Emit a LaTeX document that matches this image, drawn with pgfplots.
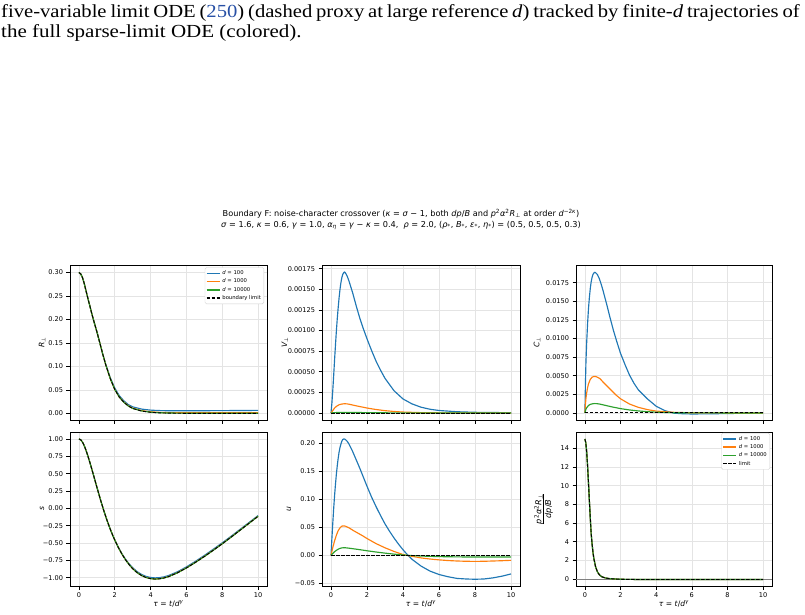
\documentclass[border=0pt]{standalone}
\usepackage{pgfplots}
\pgfplotsset{compat=1.18}
\usepackage{fontspec}
\setmainfont{DejaVu Sans}
\newfontfamily\capfont{Liberation Serif}

\definecolor{c0}{HTML}{1F77B4}
\definecolor{c1}{HTML}{FF7F0E}
\definecolor{c2}{HTML}{2CA02C}
\definecolor{linkblue}{RGB}{40,80,165}
\definecolor{gridc}{HTML}{E4E4E4}
\definecolor{legframe}{HTML}{D0D0D0}

\newcommand{\mi}[1]{\textit{#1}}
\newcommand{\tickfont}{\fontsize{6.6}{7.5}\selectfont}

\pgfplotsset{
  panel/.style={
    scale only axis, anchor=south west,
    xmin=-0.5, xmax=10.5, xtick={0,2,4,6,8,10},
    scaled ticks=false,
    tick align=outside, major tick length=3.5bp,
    tick style={black, line width=0.6bp},
    tick pos=left,
    axis line style={line width=0.6bp},
    grid=major, grid style={gridc, line width=0.6bp},
    ticklabel style={font=\tickfont},
    label style={font=\fontsize{7.6}{9}\selectfont},
    every axis plot/.append style={line width=1.15bp},
  },
  toprow/.style={height=155bp, xticklabels={,,,,,}},
  botrow/.style={height=154bp, xticklabels={0,2,4,6,8,10},
    xlabel={\mi{τ} = \mi{t}/\mi{d}\textsuperscript{\mi{γ}}},
    xlabel style={at={(axis description cs:0.5,-0.114)}, anchor=center}},
  lim/.style={draw=black, dash pattern=on 3.5bp off 1.5bp, line width=0.9bp},
  smallleg/.style={
    legend cell align=left,
    legend image code/.code={\draw[##1, line width=1.4bp] (0bp,0bp) -- (13bp,0bp);},
    legend style={anchor=north east, font=\fontsize{5.3}{6}\selectfont,
      draw=legframe, rounded corners=1.5bp, fill=white,
      inner sep=1bp, row sep=-1.2bp},
  },
}

\begin{document}
\begin{tikzpicture}
\useasboundingbox (0,0) rectangle (805bp,-615bp);

% caption text of the page
\node[anchor=base west, inner sep=0] at (1bp,-17bp) {\scalebox{1.12}[1]{\capfont\fontsize{18.5}{20}\selectfont
  \hbox to 713bp{five-variable limit ODE (\textcolor{linkblue}{250}) (dashed proxy at large reference \textit{d}) tracked by finite-\textit{d} trajectories of}}};
\node[anchor=base west, inner sep=0] at (1bp,-37bp) {\scalebox{1.14}[1]{\capfont\fontsize{18.5}{20}\selectfont
  the full sparse-limit ODE (colored).}};

% figure title
\node[font=\fontsize{8.2}{9}\selectfont, inner sep=0] at (401bp,-214bp)
  {Boundary F: noise-character crossover (\mi{κ} = \mi{σ} − 1, both \mi{dp}/\mi{B} and \mi{p}\textsuperscript{2}\mi{α}\textsuperscript{2}\mi{R}\textsubscript{⊥} at order \mi{d}\textsuperscript{−2\mi{κ}})};
\node[font=\fontsize{8.2}{9}\selectfont, inner sep=0] at (401bp,-225bp)
  {\mi{σ} = 1.6, \mi{κ} = 0.6, \mi{γ} = 1.0, \mi{α}\textsubscript{\mi{η}} = \mi{γ} − \mi{κ} = 0.4,\ \ \mi{ρ} = 2.0, (\mi{ρ}\textsubscript{*}, \mi{B}\textsubscript{*}, \mi{ε}\textsubscript{*}, \mi{η}\textsubscript{*}) = (0.5, 0.5, 0.5, 0.3)};

% ---------- R_perp ----------
\begin{axis}[panel, toprow, at={(70bp,-420bp)}, width=197bp,
  ymin=-0.014, ymax=0.316,
  ytick={0,0.05,0.10,0.15,0.20,0.25,0.30},
  yticklabels={0.00,0.05,0.10,0.15,0.20,0.25,0.30},
  ylabel={\mi{R}\textsubscript{⊥}},
  ylabel style={at={(axis description cs:-0.142,0.5)}, anchor=center},
  smallleg, legend style={at={(0.985,0.985)}}]
\addplot[draw=c0] coordinates {(0,0.300) (0.1,0.297) (0.2,0.289) (0.3,0.276) (0.4,0.260) (0.5,0.245) (0.6,0.230) (0.7,0.215) (0.82,0.198) (1.0,0.174) (1.16,0.151) (1.33,0.126) (1.5,0.104) (1.75,0.076) (2.0,0.054) (2.25,0.038) (2.5,0.027) (2.75,0.019) (3.0,0.014) (3.5,0.0092) (4.0,0.0070) (4.5,0.0061) (5.0,0.0057) (6.0,0.0056) (7.0,0.0058) (8.0,0.0060) (9.0,0.0062) (10,0.0065)};
\addlegendentry{\mi{d} = 100}
\addplot[draw=c1] coordinates {(0,0.300) (0.1,0.297) (0.2,0.289) (0.3,0.276) (0.4,0.260) (0.5,0.245) (0.6,0.230) (0.7,0.215) (0.82,0.198) (1.0,0.174) (1.16,0.151) (1.33,0.126) (1.5,0.103) (1.75,0.074) (2.0,0.051) (2.25,0.035) (2.5,0.0245) (2.75,0.0165) (3.0,0.0113) (3.5,0.0060) (4.0,0.0035) (4.5,0.0022) (5.0,0.0017) (6.0,0.0014) (7.0,0.0013) (8.0,0.0013) (10,0.0013)};
\addlegendentry{\mi{d} = 1000}
\addplot[draw=c2] coordinates {(0,0.300) (0.1,0.297) (0.2,0.289) (0.3,0.276) (0.4,0.260) (0.5,0.245) (0.6,0.230) (0.7,0.215) (0.82,0.198) (1.0,0.174) (1.16,0.151) (1.33,0.126) (1.5,0.103) (1.75,0.074) (2.0,0.051) (2.25,0.035) (2.5,0.024) (2.75,0.016) (3.0,0.0107) (3.5,0.0053) (4.0,0.0027) (4.5,0.0015) (5.0,0.0009) (6.0,0.0005) (7.0,0.0004) (8.0,0.0003) (10,0.0003)};
\addlegendentry{\mi{d} = 10000}
\addplot[lim] coordinates {(0,0.300) (0.1,0.297) (0.2,0.289) (0.3,0.276) (0.4,0.260) (0.5,0.245) (0.6,0.230) (0.7,0.215) (0.82,0.198) (1.0,0.174) (1.16,0.151) (1.33,0.126) (1.5,0.103) (1.75,0.074) (2.0,0.051) (2.25,0.035) (2.5,0.024) (2.75,0.016) (3.0,0.0105) (3.5,0.0050) (4.0,0.0024) (4.5,0.0012) (5.0,0.0006) (6.0,0.0002) (7.0,0.0001) (8.0,0.0) (10,0.0)};
\addlegendentry{boundary limit}
\end{axis}

% ---------- V_perp ----------
\begin{axis}[panel, toprow, at={(322bp,-420bp)}, width=198bp,
  ymin=-0.0000855, ymax=0.0017955,
  ytick={0,0.00025,0.0005,0.00075,0.001,0.00125,0.0015,0.00175},
  yticklabels={0.00000,0.00025,0.00050,0.00075,0.00100,0.00125,0.00150,0.00175},
  ylabel={\mi{V}\textsubscript{⊥}},
  ylabel style={at={(axis description cs:-0.187,0.5)}, anchor=center}]
\addplot[draw=c0] coordinates {(0,0) (0.05,0.00012) (0.1,0.00028) (0.15,0.00046) (0.2,0.00065) (0.25,0.00083) (0.3,0.00100) (0.35,0.00115) (0.4,0.00128) (0.45,0.00140) (0.5,0.00150) (0.55,0.00158) (0.6,0.00164) (0.65,0.00168) (0.7,0.00170) (0.75,0.00171) (0.8,0.00170) (0.9,0.00166) (1.0,0.00160) (1.2,0.00146) (1.4,0.00130) (1.6,0.00115) (1.8,0.00102) (2.0,0.00090) (2.25,0.00076) (2.5,0.00063) (2.75,0.00052) (3.0,0.00042) (3.5,0.00027) (4.0,0.00017) (4.5,0.00011) (5.0,0.00007) (5.5,0.000045) (6.0,0.00003) (7.0,0.000015) (8.0,0.000008) (9.0,0.000005) (10,0.000004)};
\addplot[draw=c1] coordinates {(0,0) (0.1,0.00003) (0.2,0.00006) (0.3,0.00008) (0.45,0.000100) (0.6,0.000108) (0.75,0.000112) (0.9,0.000110) (1.0,0.000106) (1.25,0.000094) (1.5,0.000082) (2.0,0.00006) (2.5,0.000042) (3.0,0.000028) (3.5,0.000018) (4.0,0.000011) (5.0,0.000004) (6.0,0.0000015) (8.0,0.0000005) (10,0)};
\addplot[draw=c2] coordinates {(0,0) (0.2,0.000004) (0.5,0.0000065) (0.75,0.000007) (1.0,0.0000066) (1.5,0.0000052) (2.0,0.000004) (3.0,0.0000018) (4.0,0.0000007) (6.0,0.0000001) (10,0)};
\addplot[lim] coordinates {(0,0) (10,0)};
\end{axis}

% ---------- C_perp ----------
\begin{axis}[panel, toprow, at={(576bp,-420bp)}, width=196bp,
  ymin=-0.00095, ymax=0.01988,
  ytick={0,0.0025,0.005,0.0075,0.01,0.0125,0.015,0.0175},
  yticklabels={0.0000,0.0025,0.0050,0.0075,0.0100,0.0125,0.0150,0.0175},
  ylabel={\mi{C}\textsubscript{⊥}},
  ylabel style={at={(axis description cs:-0.199,0.5)}, anchor=center}]
\addplot[draw=c0] coordinates {(0,0) (0.03,0.0040) (0.06,0.0070) (0.1,0.0095) (0.15,0.0120) (0.2,0.0140) (0.25,0.0155) (0.3,0.0167) (0.35,0.0176) (0.4,0.0182) (0.45,0.0186) (0.5,0.0188) (0.56,0.0189) (0.62,0.0188) (0.7,0.0186) (0.8,0.0181) (0.9,0.0174) (1.0,0.0166) (1.2,0.0148) (1.4,0.0129) (1.6,0.0111) (1.8,0.0095) (2.0,0.0080) (2.25,0.0065) (2.5,0.0051) (2.75,0.0040) (3.0,0.0031) (3.5,0.0019) (4.0,0.0009) (4.5,0.0003) (5.0,-0.00003) (5.5,-0.00011) (6.0,-0.00014) (7.0,-0.00012) (8.0,-0.00008) (9.0,-0.00004) (10,-0.00002)};
\addplot[draw=c1] coordinates {(0,0) (0.03,0.0012) (0.06,0.0020) (0.1,0.0027) (0.15,0.0034) (0.2,0.0039) (0.3,0.0045) (0.4,0.0048) (0.5,0.0049) (0.6,0.0049) (0.7,0.0048) (0.85,0.0046) (1.0,0.0042) (1.25,0.0036) (1.5,0.0030) (1.75,0.0024) (2.0,0.0019) (2.5,0.0012) (3.0,0.00075) (3.5,0.00045) (4.0,0.00025) (5.0,0.00008) (6.0,0.00002) (8.0,0) (10,0)};
\addplot[draw=c2] coordinates {(0,0) (0.03,0.0003) (0.06,0.0005) (0.1,0.0007) (0.2,0.0010) (0.3,0.00115) (0.45,0.00124) (0.56,0.00126) (0.7,0.00124) (0.85,0.00118) (1.0,0.00110) (1.5,0.00082) (2.0,0.00058) (2.5,0.00040) (3.0,0.00027) (3.5,0.00017) (4.0,0.0001) (5.0,0.00003) (6.0,0.00001) (8.0,0) (10,0)};
\addplot[lim] coordinates {(0,0) (10,0)};
\end{axis}

% ---------- s ----------
\begin{axis}[panel, botrow, at={(70bp,-586bp)}, width=197bp,
  ymin=-1.12, ymax=1.10,
  ytick={-1,-0.75,-0.5,-0.25,0,0.25,0.5,0.75,1},
  yticklabels={−1.00,−0.75,−0.50,−0.25,0.00,0.25,0.50,0.75,1.00},
  ylabel={\mi{s}},
  ylabel style={at={(axis description cs:-0.142,0.5)}, anchor=center}]
\addplot[draw=c0] coordinates {(0,1.000) (0.1,0.988) (0.2,0.953) (0.3,0.900) (0.4,0.832) (0.5,0.754) (0.6,0.670) (0.7,0.581) (0.8,0.490) (0.9,0.398) (1.0,0.306) (1.1,0.215) (1.2,0.126) (1.3,0.040) (1.4,-0.043) (1.5,-0.122) (1.6,-0.197) (1.7,-0.268) (1.8,-0.335) (1.9,-0.398) (2.0,-0.456) (2.2,-0.562) (2.4,-0.654) (2.6,-0.733) (2.8,-0.800) (3.0,-0.856) (3.25,-0.913) (3.5,-0.954) (3.75,-0.982) (4.0,-0.997) (4.25,-1.003) (4.5,-0.999) (4.75,-0.988) (5.0,-0.969) (5.5,-0.915) (6.0,-0.845) (6.5,-0.765) (7.0,-0.680) (7.5,-0.590) (8.0,-0.498) (8.5,-0.402) (9.0,-0.303) (9.5,-0.204) (10,-0.105)};
\addplot[draw=c1] coordinates {(0,1.000) (0.1,0.988) (0.2,0.953) (0.3,0.900) (0.4,0.832) (0.5,0.754) (0.6,0.670) (0.7,0.581) (0.8,0.490) (0.9,0.398) (1.0,0.306) (1.1,0.215) (1.2,0.126) (1.3,0.040) (1.4,-0.043) (1.5,-0.122) (1.6,-0.197) (1.7,-0.268) (1.8,-0.335) (1.9,-0.398) (2.0,-0.457) (2.2,-0.565) (2.4,-0.659) (2.6,-0.741) (2.8,-0.810) (3.0,-0.868) (3.25,-0.926) (3.5,-0.968) (3.75,-0.996) (4.0,-1.012) (4.25,-1.018) (4.5,-1.014) (4.75,-1.002) (5.0,-0.983) (5.5,-0.928) (6.0,-0.858) (6.5,-0.778) (7.0,-0.693) (7.5,-0.603) (8.0,-0.510) (8.5,-0.413) (9.0,-0.314) (9.5,-0.214) (10,-0.114)};
\addplot[draw=c2] coordinates {(0,1.000) (0.1,0.988) (0.2,0.953) (0.3,0.900) (0.4,0.832) (0.5,0.754) (0.6,0.670) (0.7,0.581) (0.8,0.490) (0.9,0.398) (1.0,0.306) (1.1,0.215) (1.2,0.126) (1.3,0.040) (1.4,-0.043) (1.5,-0.122) (1.6,-0.197) (1.7,-0.268) (1.8,-0.335) (1.9,-0.398) (2.0,-0.457) (2.2,-0.565) (2.4,-0.660) (2.6,-0.742) (2.8,-0.812) (3.0,-0.870) (3.25,-0.928) (3.5,-0.970) (3.75,-0.998) (4.0,-1.014) (4.25,-1.020) (4.5,-1.016) (4.75,-1.004) (5.0,-0.985) (5.5,-0.930) (6.0,-0.860) (6.5,-0.780) (7.0,-0.695) (7.5,-0.605) (8.0,-0.512) (8.5,-0.415) (9.0,-0.315) (9.5,-0.215) (10,-0.115)};
\addplot[lim] coordinates {(0,1.000) (0.1,0.988) (0.2,0.953) (0.3,0.900) (0.4,0.832) (0.5,0.754) (0.6,0.670) (0.7,0.581) (0.8,0.490) (0.9,0.398) (1.0,0.306) (1.1,0.215) (1.2,0.126) (1.3,0.040) (1.4,-0.043) (1.5,-0.122) (1.6,-0.197) (1.7,-0.268) (1.8,-0.335) (1.9,-0.398) (2.0,-0.457) (2.2,-0.565) (2.4,-0.660) (2.6,-0.742) (2.8,-0.812) (3.0,-0.870) (3.25,-0.928) (3.5,-0.970) (3.75,-0.998) (4.0,-1.014) (4.25,-1.020) (4.5,-1.016) (4.75,-1.004) (5.0,-0.985) (5.5,-0.930) (6.0,-0.860) (6.5,-0.780) (7.0,-0.695) (7.5,-0.605) (8.0,-0.512) (8.5,-0.415) (9.0,-0.315) (9.5,-0.215) (10,-0.115)};
\end{axis}

% ---------- u ----------
\begin{axis}[panel, botrow, at={(322bp,-586bp)}, width=198bp,
  ymin=-0.0545, ymax=0.2195,
  ytick={-0.05,0,0.05,0.10,0.15,0.20},
  yticklabels={−0.05,0.00,0.05,0.10,0.15,0.20},
  ylabel={\mi{u}},
  ylabel style={at={(axis description cs:-0.167,0.5)}, anchor=center}]
\addplot[draw=c0] coordinates {(0,0) (0.05,0.030) (0.1,0.058) (0.15,0.084) (0.2,0.107) (0.25,0.127) (0.3,0.145) (0.35,0.160) (0.4,0.173) (0.45,0.184) (0.5,0.192) (0.55,0.198) (0.6,0.203) (0.65,0.206) (0.7,0.207) (0.75,0.207) (0.8,0.206) (0.9,0.203) (1.0,0.198) (1.2,0.185) (1.4,0.170) (1.6,0.155) (1.8,0.139) (2.0,0.123) (2.25,0.104) (2.5,0.087) (2.75,0.071) (3.0,0.056) (3.25,0.043) (3.5,0.031) (3.75,0.020) (4.0,0.010) (4.25,0.001) (4.5,-0.007) (5.0,-0.019) (5.5,-0.028) (6.0,-0.034) (6.5,-0.038) (7.0,-0.041) (7.5,-0.042) (8.0,-0.0425) (8.5,-0.042) (9.0,-0.040) (9.5,-0.037) (10,-0.033)};
\addplot[draw=c1] coordinates {(0,0) (0.05,0.007) (0.1,0.014) (0.2,0.026) (0.3,0.036) (0.4,0.044) (0.5,0.049) (0.6,0.052) (0.7,0.0525) (0.8,0.052) (1.0,0.049) (1.25,0.044) (1.5,0.0395) (1.75,0.035) (2.0,0.030) (2.5,0.021) (3.0,0.0135) (3.5,0.007) (4.0,0.0015) (4.3,-0.0005) (4.5,-0.0017) (5.0,-0.0045) (5.5,-0.0065) (6.0,-0.008) (6.5,-0.0092) (7.0,-0.010) (7.5,-0.0105) (8.0,-0.0107) (8.5,-0.0105) (9.0,-0.010) (9.5,-0.0095) (10,-0.0088)};
\addplot[draw=c2] coordinates {(0,0) (0.1,0.0035) (0.2,0.0066) (0.3,0.009) (0.4,0.011) (0.5,0.0125) (0.6,0.0133) (0.7,0.0136) (0.8,0.0135) (1.0,0.0128) (1.5,0.0106) (2.0,0.0082) (2.5,0.0060) (3.0,0.0040) (3.5,0.0022) (4.0,0.0007) (4.3,0.0) (5.0,-0.0012) (6.0,-0.0022) (7.0,-0.0027) (8.0,-0.0029) (9.0,-0.0029) (10,-0.0028)};
\addplot[lim] coordinates {(0,0) (10,0)};
\end{axis}

% ---------- ratio p^2 alpha^2 R_perp / (dp/B) ----------
\begin{axis}[panel, botrow, at={(576bp,-586bp)}, width=196bp,
  ymin=-0.75, ymax=15.75,
  ytick={0,2,4,6,8,10,12,14},
  yticklabels={0,2,4,6,8,10,12,14},
  ylabel={\begin{tabular}{@{}c@{}}\mi{p}\textsuperscript{2}\mi{α}\textsuperscript{2}\mi{R}\textsubscript{⊥}\\[-1.5bp]\hline\rule{0pt}{8bp}\mi{dp}/\mi{B}\end{tabular}},
  ylabel style={at={(axis description cs:-0.163,0.5)}, anchor=center, font=\fontsize{8.2}{9}\selectfont},
  smallleg, legend style={at={(0.99,0.994)}}]
\addplot[draw=gray, line width=0.7bp, forget plot] coordinates {(-0.5,0) (10.5,0)};
\addplot[draw=c0] coordinates {(0,15.0) (0.05,14.6) (0.1,13.6) (0.15,12.1) (0.2,10.3) (0.25,8.4) (0.3,6.6) (0.35,4.9) (0.4,3.8) (0.45,2.9) (0.5,2.2) (0.6,1.3) (0.7,0.78) (0.8,0.48) (0.9,0.30) (1.0,0.20) (1.2,0.09) (1.4,0.04) (1.7,0.0) (2.0,-0.03) (3.0,-0.05) (10,-0.05)};
\addlegendentry{\mi{d} = 100}
\addplot[draw=c1] coordinates {(0,15.0) (0.05,14.6) (0.1,13.6) (0.15,12.1) (0.2,10.3) (0.25,8.4) (0.3,6.6) (0.35,4.9) (0.4,3.8) (0.45,2.9) (0.5,2.2) (0.6,1.3) (0.7,0.78) (0.8,0.48) (0.9,0.30) (1.0,0.20) (1.2,0.09) (1.4,0.04) (1.7,0.0) (2.0,-0.03) (3.0,-0.05) (10,-0.05)};
\addlegendentry{\mi{d} = 1000}
\addplot[draw=c2] coordinates {(0,15.0) (0.05,14.6) (0.1,13.6) (0.15,12.1) (0.2,10.3) (0.25,8.4) (0.3,6.6) (0.35,4.9) (0.4,3.8) (0.45,2.9) (0.5,2.2) (0.6,1.3) (0.7,0.78) (0.8,0.48) (0.9,0.30) (1.0,0.20) (1.2,0.09) (1.4,0.04) (1.7,0.0) (2.0,-0.03) (3.0,-0.05) (10,-0.05)};
\addlegendentry{\mi{d} = 10000}
\addplot[lim] coordinates {(0,15.0) (0.05,14.6) (0.1,13.6) (0.15,12.1) (0.2,10.3) (0.25,8.4) (0.3,6.6) (0.35,4.9) (0.4,3.8) (0.45,2.9) (0.5,2.2) (0.6,1.3) (0.7,0.78) (0.8,0.48) (0.9,0.30) (1.0,0.20) (1.2,0.09) (1.4,0.04) (1.7,0.0) (2.0,-0.03) (3.0,-0.05) (10,-0.05)};
\addlegendentry{limit}
\end{axis}
\end{tikzpicture}
\end{document}
